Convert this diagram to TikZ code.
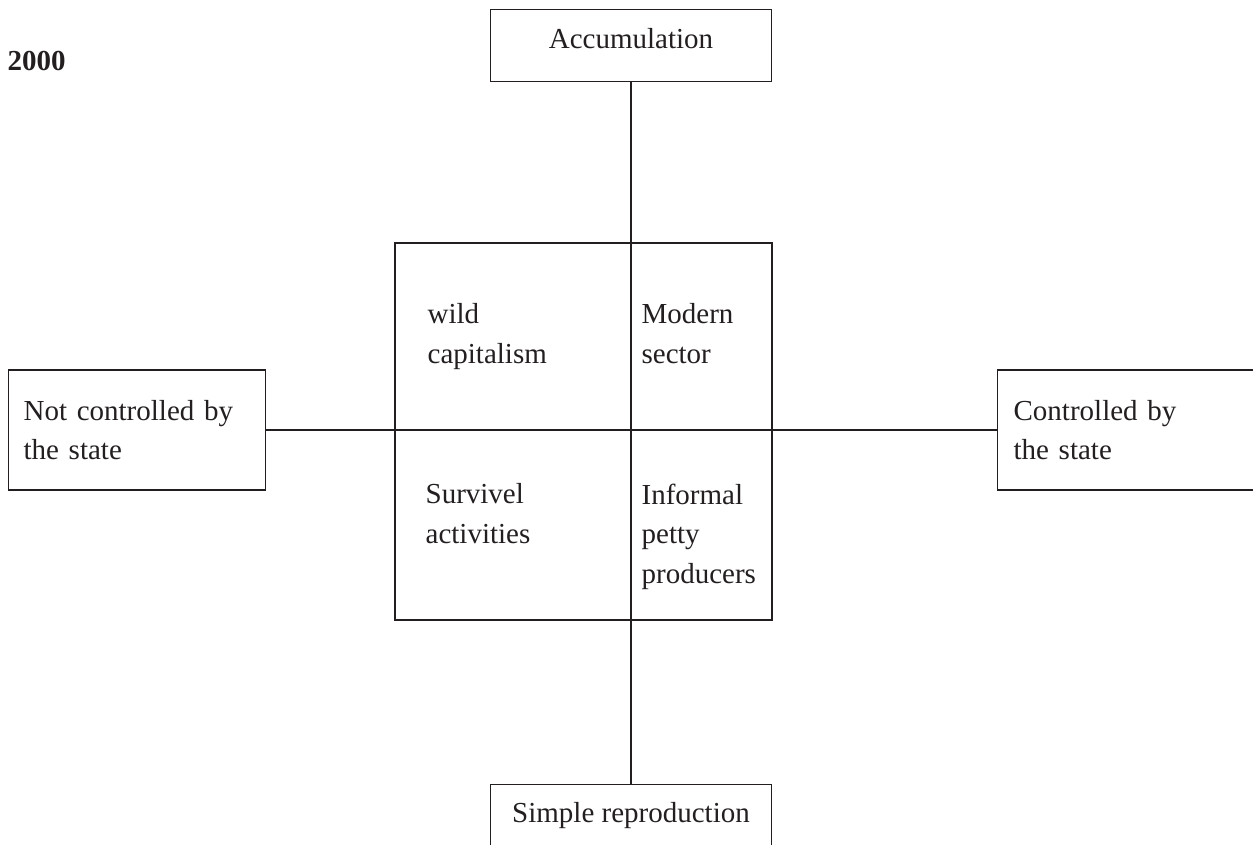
\documentclass[tikz,border=0pt]{standalone}
\usepackage{fontspec}
\setmainfont{Liberation Serif}
\definecolor{inkgray}{RGB}{35,31,32}

\begin{document}
\begin{tikzpicture}[x=0.4pt,y=-0.4pt,inkgray,line width=0.5pt,
    font=\fontsize{11.6}{15.8}\selectfont,
    box/.style={draw,rectangle,inner sep=0pt},
    cell/.style={anchor=north west,inner sep=0pt,align=left}]
        \useasboundingbox (0,0) rectangle (1253,845);
        \clip (0,0) rectangle (1253,845);
        % year
        \node[anchor=west,inner sep=0pt,font=\fontsize{11.6}{14}\selectfont\bfseries] (year) at (7,61) {2000};
        % the four end boxes
        \node[box,anchor=north,minimum width=112.4pt,inner ysep=6pt,text height=9.6pt,text depth=7.2pt] (acc) at (631,9) {Accumulation};
        \node[box,anchor=north,minimum width=112.4pt,inner ysep=6pt,text height=9.2pt,text depth=40pt] (simple) at (631,784) {Simple reproduction};
        \node[box,anchor=west,minimum height=48pt,text width=90.8pt,inner xsep=6pt,align=left] (notctrl) at (8,430) {Not controlled by\\the state};
        \node[box,anchor=west,minimum height=48pt,text width=110pt,inner xsep=6.4pt,align=left] (ctrl) at (997,430) {Controlled by\\the state};
        % the square in the middle
        \node[box,minimum size=150.8pt] (square) at (583.5,431.5) {};
        \draw (acc) -- (simple);
        \draw (notctrl) -- (ctrl);
        \node[cell] (wild) at (427,303) {wild\\capitalism};
        \node[cell] (modern) at (641,303) {Modern\\sector};
        \node[cell] (survive) at (425,483) {Survivel\\activities};
        \node[cell] (petty) at (641,483) {Informal\\petty\\producers};
\end{tikzpicture}
\end{document}
